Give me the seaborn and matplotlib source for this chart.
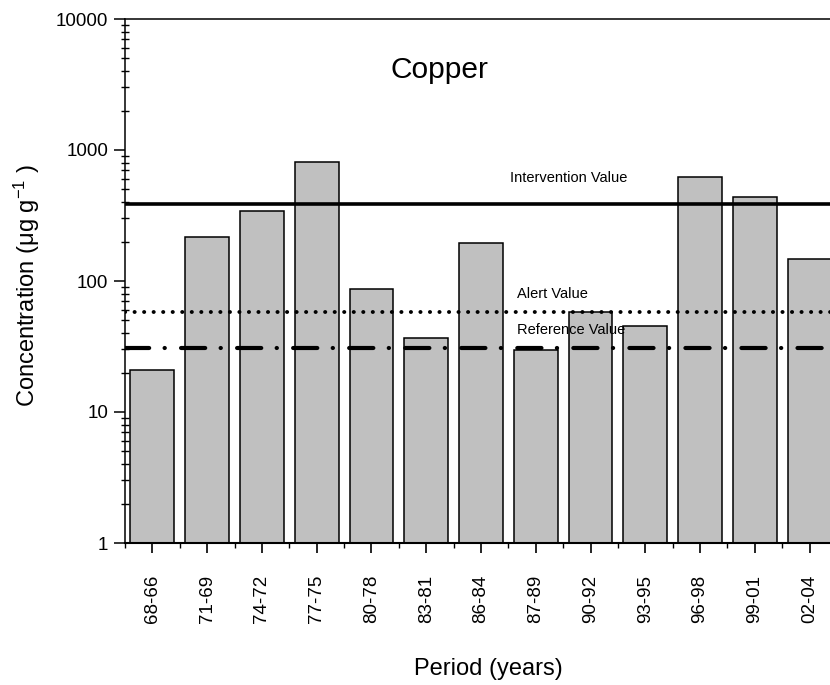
import matplotlib
matplotlib.use("Agg")
import matplotlib.pyplot as plt
import matplotlib.ticker as mticker
import numpy as np
import pandas as pd
import seaborn as sns

periods = ["68-66", "71-69", "74-72", "77-75", "80-78", "83-81", "86-84",
           "87-89", "90-92", "93-95", "96-98", "99-01", "02-04"]
copper = [21, 217, 342, 810, 87, 37, 195, 29.7, 58, 45, 622, 438, 147]

intervention_value = 390
alert_value = 58
reference_value = 31

sns.set_style("ticks")
plt.rcParams["font.family"] = ["Liberation Sans", "DejaVu Sans"]
plt.rcParams["mathtext.fontset"] = "custom"
plt.rcParams["mathtext.rm"] = "Liberation Sans"
plt.rcParams["mathtext.it"] = "Liberation Sans"
plt.rcParams["text.color"] = "black"
plt.rcParams["axes.labelcolor"] = "black"
plt.rcParams["xtick.color"] = "black"
plt.rcParams["ytick.color"] = "black"

df = pd.DataFrame({"Period": periods, "Cu": copper})

W, H = 830, 685
fig = plt.figure(figsize=(W / 100, H / 100), dpi=100)
ax = fig.add_axes([125 / W, 1 - 543 / H, (837 - 125) / W, (543 - 19) / H])

sns.barplot(data=df, x="Period", y="Cu", ax=ax, color="#C0C0C0",
            saturation=1, width=0.8, edgecolor="black", linewidth=1.1,
            log_scale=True, zorder=2)

ax.set_yscale("log")
ax.set_ylim(1, 10000)
ax.set_xlim(-0.5, len(periods) - 0.5)

ax.axhline(intervention_value, color="black", lw=2.6, zorder=3)
ax.axhline(alert_value, color="black", lw=2.8, ls=(0, (0.05, 2.4)),
           dash_capstyle="round", zorder=3)
ax.axhline(reference_value, color="black", lw=3.0,
           ls=(0, (5.8, 3.7, 0.05, 3.9)), dash_capstyle="round", zorder=3)

ax.text(6.53, 610, "Intervention Value", fontsize=10.5, va="center", ha="left")
ax.text(6.65, 79, "Alert Value", fontsize=10.5, va="center", ha="left")
ax.text(6.65, 42, "Reference Value", fontsize=10.5, va="center", ha="left",
        zorder=4)
ax.text(0.442, 0.903, "Copper", transform=ax.transAxes, fontsize=21.5,
        ha="center", va="center")

ax.yaxis.set_major_locator(mticker.FixedLocator([1, 10, 100, 1000, 10000]))
ax.yaxis.set_major_formatter(mticker.FixedFormatter(["1", "10", "100", "1000", "10000"]))
ax.yaxis.set_minor_locator(mticker.LogLocator(base=10, subs=np.arange(2, 10)))
ax.yaxis.set_minor_formatter(mticker.NullFormatter())

ax.set_xticks(range(len(periods)))
ax.set_xticklabels(periods, rotation=90)
ax.xaxis.set_minor_locator(mticker.FixedLocator(np.arange(-0.5, len(periods), 1.0)))

ax.tick_params(axis="y", which="major", direction="out", length=8, width=1.1,
               labelsize=13.5, pad=4)
ax.tick_params(axis="y", which="minor", direction="inout", length=6, width=1.0)
ax.tick_params(axis="x", which="major", direction="out", length=7, width=1.2,
               labelsize=13.5, pad=16)
ax.tick_params(axis="x", which="minor", direction="out", length=3.5, width=1.0)

for s in ax.spines.values():
    s.set_visible(True)
    s.set_linewidth(1.1)
    s.set_color("black")
ax.spines["bottom"].set_linewidth(1.5)

ax.set_xlabel("Period (years)", fontsize=17)
ax.xaxis.set_label_coords(0.511, -0.2195)
ax.set_ylabel(r"Concentration ($\mu$g g$^{-1}$ )", fontsize=17)
ax.yaxis.set_label_coords(-0.117, 0.492)

fig.savefig("out.png", dpi=100)
